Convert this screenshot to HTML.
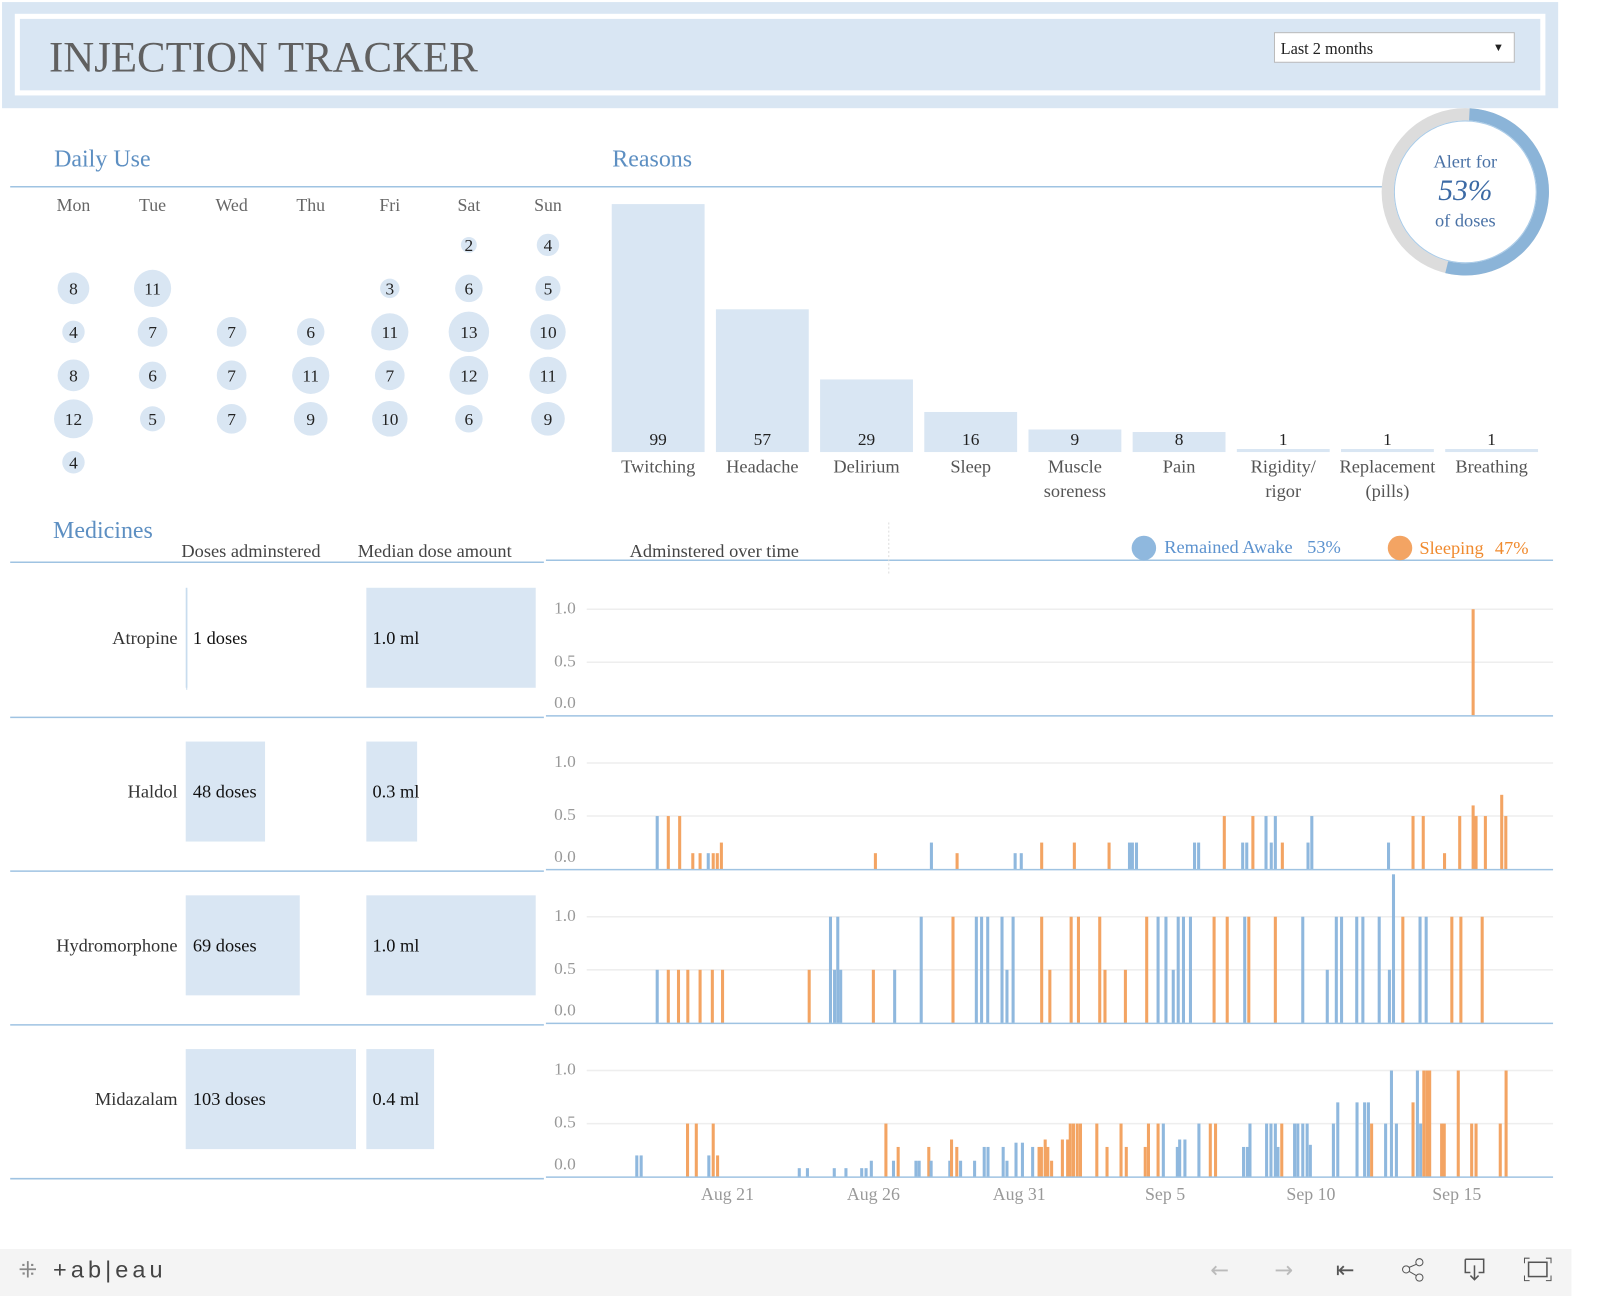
<!DOCTYPE html>
<html><head><meta charset="utf-8"><style>
html,body{margin:0;padding:0;background:#fff;}
svg{display:block;font-family:"Liberation Serif",serif;}
</style></head><body>
<svg id="root" width="1600" height="1298" viewBox="0 0 1568 1272" xmlns="http://www.w3.org/2000/svg">
<g>
<rect x="2" y="2" width="1525" height="104" fill="#d9e6f3"/>
<rect x="17" y="16" width="1495" height="75" fill="#d9e6f3" stroke="#fff" stroke-width="5"/>
<text x="48" y="70" font-size="42" fill="#606060">INJECTION TRACKER</text>
<g>
<rect x="1249" y="32" width="235" height="29" fill="#fff" stroke="#bbb"/>
<text x="1255" y="53" font-size="16" fill="#222">Last 2 months</text>
<text x="1463" y="50" font-size="11" fill="#222">▼</text>
</g>
</g>
<line x1="10" y1="183" x2="1360" y2="183" stroke="#9fc3e2" stroke-width="1.5"/>
<text x="53" y="163" font-size="23.5" fill="#5d8fc2">Daily Use</text>
<text x="600" y="163" font-size="23.5" fill="#5d8fc2">Reasons</text>
<g id="cal"></g>
<g id="reasons"></g>
<g id="alert"></g>
<g>
<text x="52" y="527" font-size="23.5" fill="#5d8fc2">Medicines</text>
<text x="246" y="546" font-size="18" fill="#444" text-anchor="middle">Doses adminstered</text>
<text x="426" y="546" font-size="18" fill="#444" text-anchor="middle">Median dose amount</text>
<text x="700" y="546" font-size="18" fill="#444" text-anchor="middle">Adminstered over time</text>
<line x1="10" y1="551" x2="533" y2="551" stroke="#9fc3e2" stroke-width="1.5"/>
<line x1="535" y1="549" x2="1522" y2="549" stroke="#9fc3e2" stroke-width="1.5"/>
<line x1="871" y1="512" x2="871" y2="562" stroke="#ddd" stroke-dasharray="2,2"/>
<g>
<circle cx="1121" cy="537" r="12" fill="#8fb8de"/>
<text x="1141" y="542" font-size="18" fill="#5d93cf">Remained Awake</text>
<text x="1281" y="542" font-size="18" fill="#5d93cf">53%</text>
</g>
<g>
<circle cx="1372" cy="537" r="12" fill="#f3a463"/>
<text x="1391" y="543" font-size="18" fill="#f08a2e">Sleeping</text>
<text x="1465" y="543" font-size="18" fill="#f08a2e">47%</text>
</g>
</g>
<g id="meds"></g>
<g id="xaxis"></g>
<g>
<rect x="0" y="1224" width="1540" height="46" fill="#f4f4f4"/>
<text x="18" y="1252" font-size="22" fill="#888" font-family="Liberation Sans,sans-serif">⁜</text>
<text x="52" y="1252" font-size="23" fill="#444" font-family="Liberation Sans,sans-serif" letter-spacing="4">+ab|eau</text>
<text x="1186" y="1252" font-size="22" fill="#bbb" font-family="DejaVu Sans,sans-serif">←</text>
<text x="1249" y="1252" font-size="22" fill="#bbb" font-family="DejaVu Sans,sans-serif">→</text>
<text x="1309" y="1252" font-size="22" fill="#555" font-family="DejaVu Sans,sans-serif">⇤</text>
<g>
<circle cx="1378" cy="1244" r="3.5" fill="none" stroke="#555"/><circle cx="1391" cy="1237" r="3.5" fill="none" stroke="#555"/><circle cx="1391" cy="1252" r="3.5" fill="none" stroke="#555"/>
<line x1="1381" y1="1242" x2="1388" y2="1239" stroke="#555"/><line x1="1381" y1="1246" x2="1388" y2="1250" stroke="#555"/>
</g>
<g>
<path d="M1436 1234 h18 v13 h-5 M1436 1234 v13 h5 M1445 1240 v14 M1441 1250 l4 4 4-4" fill="none" stroke="#555" stroke-width="1.5"/>
</g>
<g>
<rect x="1498" y="1237" width="18" height="14" fill="none" stroke="#555" stroke-width="1.5"/>
<path d="M1494 1238 v-5 h5 M1520 1238 v-5 h-5 M1494 1250 v5 h5 M1520 1250 v5 h-5" fill="none" stroke="#555"/>
</g>
</g>
</svg>
<script>
// ---- Daily use data (week rows x Mon..Sun), null = no data
const weekdays = ["Mon","Tue","Wed","Thu","Fri","Sat","Sun"];
const calRows = [
 [null,null,null,null,null,2,4],
 [8,11,null,null,3,6,5],
 [4,7,7,6,11,13,10],
 [8,6,7,11,7,12,11],
 [12,5,7,9,10,6,9],
 [4,null,null,null,null,null,null]
];
// ---- Reasons data
const reasonLabels = [["Twitching"],["Headache"],["Delirium"],["Sleep"],["Muscle","soreness"],["Pain"],["Rigidity/","rigor"],["Replacement","(pills)"],["Breathing"]];
const reasonCounts = [99,57,29,16,9,8,1,1,1];
// ---- Alert
const alertPct = 53;
// ---- Medicines
const medNames = ["Atropine","Haldol","Hydromorphone","Midazalam"];
const medDoses = [1,48,69,103];
const medMedian = [1.0,0.3,1.0,0.4];
const yTicks = [0,0.5,1.0];
const xTickDays = [0,5,10,15,20,25];
const xTickLabels = ["Aug 21","Aug 26","Aug 31","Sep 5","Sep 10","Sep 15"];
// dose events: day offset from Aug 21, amount (ml), state: a=remained awake, s=sleeping
const atropineDays = [25.56];
const atropineVals = [1.0];
const atropineState = ["s"];
const haldolDays = [-2.41,-2.03,-1.64,-1.19,-0.94,-0.66,-0.49,-0.35,-0.21,5.07,6.99,7.87,9.86,10.07,10.77,11.89,13.08,13.78,13.88,14.02,16.01,16.15,17.03,17.66,17.80,18.01,18.46,18.64,18.78,19.02,19.90,20.03,22.66,23.50,23.85,24.58,25.10,25.56,25.66,25.98,26.54,26.68];
const haldolVals = [0.5,0.5,0.5,0.15,0.15,0.15,0.15,0.15,0.25,0.15,0.25,0.15,0.15,0.15,0.25,0.25,0.25,0.25,0.25,0.25,0.25,0.25,0.5,0.25,0.25,0.5,0.5,0.25,0.5,0.25,0.25,0.5,0.25,0.5,0.5,0.15,0.5,0.6,0.5,0.5,0.7,0.5];
const haldolState = ["a","s","s","s","s","a","s","s","s","s","a","s","a","a","s","s","s","a","a","a","a","a","s","a","a","s","a","a","a","s","a","a","a","s","s","s","s","s","s","s","s","s"];
const hydroDays = [-2.41,-2.03,-1.68,-1.36,-0.94,-0.52,-0.17,2.80,3.53,3.67,3.78,3.88,5.00,5.73,6.64,7.73,8.53,8.71,8.92,9.41,9.58,9.79,10.77,11.05,11.78,12.03,12.76,12.94,13.64,14.37,14.76,15.03,15.28,15.45,15.63,15.87,16.68,17.13,17.73,17.87,18.78,19.72,20.56,20.87,21.05,21.57,21.78,22.34,22.69,22.83,23.15,23.74,23.95,24.83,25.14,25.87];
const hydroVals = [0.5,0.5,0.5,0.5,0.5,0.5,0.5,0.5,1,0.5,1,0.5,0.5,0.5,1,1,1,1,1,1,0.5,1,1,0.5,1,1,1,0.5,0.5,1,1,1,0.5,1,1,1,1,1,1,1,1,1,0.5,1,1,1,1,1,0.5,1.4,1,1,1,1,1,1];
const hydroState = ["a","s","s","s","s","s","s","s","a","a","a","a","s","a","a","s","a","a","a","a","a","a","s","s","s","s","s","s","s","s","a","a","a","a","a","a","s","s","a","s","s","a","a","a","a","a","a","a","a","a","s","a","a","s","s","s"];
const midaDays = [-3.11,-2.96,-1.37,-1.07,-0.64,-0.49,-0.34,2.46,2.74,3.66,4.06,4.60,4.75,4.93,5.43,5.69,5.85,6.46,6.57,6.90,6.98,7.62,7.68,7.86,7.99,8.47,8.80,8.93,9.45,9.58,9.89,10.11,10.46,10.68,10.76,10.89,10.98,11.11,11.48,11.66,11.75,11.86,11.99,12.10,12.66,13.01,13.49,13.67,14.32,14.43,14.76,14.94,15.42,15.50,15.68,16.16,16.55,16.73,17.69,17.82,17.91,18.48,18.63,18.78,18.87,19.00,19.44,19.55,19.72,19.87,19.98,20.77,20.92,21.58,21.84,21.97,22.08,22.56,22.76,22.93,23.50,23.65,23.76,23.87,23.98,24.07,24.48,24.57,25.05,25.51,25.66,26.49,26.69];
const midaVals = [0.2,0.2,0.5,0.5,0.2,0.5,0.2,0.08,0.08,0.08,0.08,0.08,0.08,0.15,0.5,0.15,0.28,0.15,0.15,0.28,0.15,0.15,0.35,0.28,0.15,0.15,0.28,0.28,0.28,0.15,0.32,0.32,0.28,0.28,0.28,0.35,0.28,0.15,0.35,0.35,0.5,0.5,0.5,0.5,0.5,0.28,0.5,0.28,0.28,0.5,0.5,0.5,0.28,0.35,0.35,0.5,0.5,0.5,0.28,0.28,0.5,0.5,0.5,0.5,0.28,0.5,0.5,0.5,0.5,0.5,0.3,0.5,0.7,0.7,0.7,0.7,0.5,0.5,1.0,0.5,0.7,1.0,0.5,1,1,1,0.5,0.5,1,0.5,0.5,0.5,1];
const midaState = ["a","a","s","s","a","s","s","a","a","a","a","a","a","a","s","a","s","a","a","s","a","a","s","s","a","a","a","a","a","a","a","a","a","s","s","s","s","s","s","s","s","s","s","s","s","s","s","s","s","s","s","a","a","a","a","a","s","s","a","a","a","a","a","a","a","s","a","a","a","a","a","a","a","a","a","a","s","a","a","a","s","a","a","s","s","s","s","s","s","s","s","s","s"];
const medSeriesDays = [atropineDays,haldolDays,hydroDays,midaDays];
const medSeriesVals = [atropineVals,haldolVals,hydroVals,midaVals];
const medSeriesState = [atropineState,haldolState,hydroState,midaState];

const NS="http://www.w3.org/2000/svg";
function mk(tag,attrs,parent,txt){const e=document.createElementNS(NS,tag);for(const k in attrs)e.setAttribute(k,attrs[k]);if(txt!=null)e.textContent=txt;parent.appendChild(e);return e;}
const BLUE="#8fb8de",ORANGE="#f3a463";

// Calendar
const cal=document.getElementById('cal');
const colX=i=>72+i*77.5, rowY=j=>240+j*42.6, rad=v=>5.5*Math.sqrt(v);
weekdays.forEach((d,i)=>{const t=mk('text',{x:colX(i),y:207,'font-size':17.5,fill:'#666','text-anchor':'middle'},cal,d);

});
calRows.forEach((row,j)=>row.forEach((v,i)=>{if(v==null)return;
const g=mk('g',{},cal);


mk('circle',{cx:colX(i),cy:rowY(j),r:rad(v),fill:'#d9e6f3'},g);
mk('text',{x:colX(i),y:rowY(j)+6,'font-size':17,fill:'#222','text-anchor':'middle'},g,v);}));

// Reasons
const rs=document.getElementById('reasons');
const rBase=443,rScale=243/99,rX=i=>599.5+i*102.1,rW=91;
reasonCounts.forEach((v,i)=>{const g=mk('g',{},rs);


const h=Math.max(v*rScale,3);
mk('rect',{x:rX(i),y:rBase-h,width:rW,height:h,fill:'#d9e6f3'},g);
mk('text',{x:rX(i)+rW/2,y:rBase-7,'font-size':17,fill:'#222','text-anchor':'middle'},g,v);
reasonLabels[i].forEach((l,k)=>mk('text',{x:rX(i)+rW/2,y:463+k*24,'font-size':18,fill:'#555','text-anchor':'middle'},g,l));});

// Alert ring
const al=document.getElementById('alert');
const cx=1436,cy=188,R=76;
const bg=mk('circle',{cx:cx,cy:cy,r:R,fill:'none',stroke:'#dcdcdc','stroke-width':12},al);


const C=2*Math.PI*R;
const arc=mk('circle',{cx:cx,cy:cy,r:R,fill:'none',stroke:'#8bb4d8','stroke-width':12,'stroke-dasharray':(C*alertPct/100)+' '+C,transform:`rotate(-87 ${cx} ${cy})`},al);


mk('circle',{cx:cx,cy:cy,r:R-6.5,fill:'none',stroke:'#a9cbe8','stroke-width':1},al);
const t1=mk('text',{x:cx,y:164,'font-size':18,fill:'#4a72a6','text-anchor':'middle'},al,'Alert for');


const t2=mk('text',{x:cx,y:196,'font-size':29,fill:'#3c6aa5','text-anchor':'middle','font-style':'italic'},al,alertPct+'%');


const t3=mk('text',{x:cx,y:222,'font-size':18,fill:'#4a72a6','text-anchor':'middle'},al,'of doses');



// Medicines
const meds=document.getElementById('meds');
const x0=540,x1=1522,dayMin=-6.05,dayMax=28.3;
const xs=d=>x0+(d-dayMin)/(dayMax-dayMin)*(x1-x0);
const rowBase=i=>701+i*150.7, yUnit=104;
const doseScale=1.62, medScale=166;
medNames.forEach((n,i)=>{const g=mk('g',{},meds);


const base=rowBase(i), mid=base-76;
mk('text',{x:174,y:mid+6,'font-size':18,fill:'#333','text-anchor':'end'},g,n);
const db=mk('rect',{x:182,y:mid-49,width:Math.max(medDoses[i]*doseScale,1),height:98,fill:medDoses[i]>1?'#d9e6f3':'#c8dcee'},g);


mk('text',{x:189,y:mid+6,'font-size':18,fill:'#111'},g,medDoses[i]+' doses');
const mb=mk('rect',{x:359,y:mid-49,width:medMedian[i]*medScale,height:98,fill:'#d9e6f3'},g);


mk('text',{x:365,y:mid+6,'font-size':18,fill:'#111'},g,medMedian[i].toFixed(1)+' ml');
mk('line',{x1:10,y1:base+2,x2:533,y2:base+2,stroke:'#9fc3e2','stroke-width':1.5},g);
yTicks.forEach(t=>{const y=base-t*yUnit;
if(t>0)mk('line',{x1:575,y1:y,x2:x1,y2:y,stroke:'#eeeeee','stroke-width':1.5},g);
const lt=mk('text',{x:543,y:(t===0?base-7:y+4),'font-size':17,fill:'#999'},g,t.toFixed(1));

});
const days=medSeriesDays[i],vals=medSeriesVals[i],st=medSeriesState[i];
days.forEach((d,k)=>{const h=vals[k]*yUnit;
const b=mk('rect',{x:xs(d)-1.5,y:base-h,width:3,height:h,fill:st[k]==='s'?ORANGE:BLUE},g);

});
mk('line',{x1:535,y1:base+0.5,x2:x1,y2:base+0.5,stroke:'#9fc3e2','stroke-width':1.5},g);
});
mk('line',{x1:183,y1:578,x2:183,y2:676,stroke:'#c8dcee','stroke-width':1},meds);

// x axis
const xa=document.getElementById('xaxis');
xTickDays.forEach((d,i)=>{const t=mk('text',{x:xs(d),y:1176,'font-size':17.5,fill:'#999','text-anchor':'middle'},xa,xTickLabels[i]);

});
</script>
</body></html>
